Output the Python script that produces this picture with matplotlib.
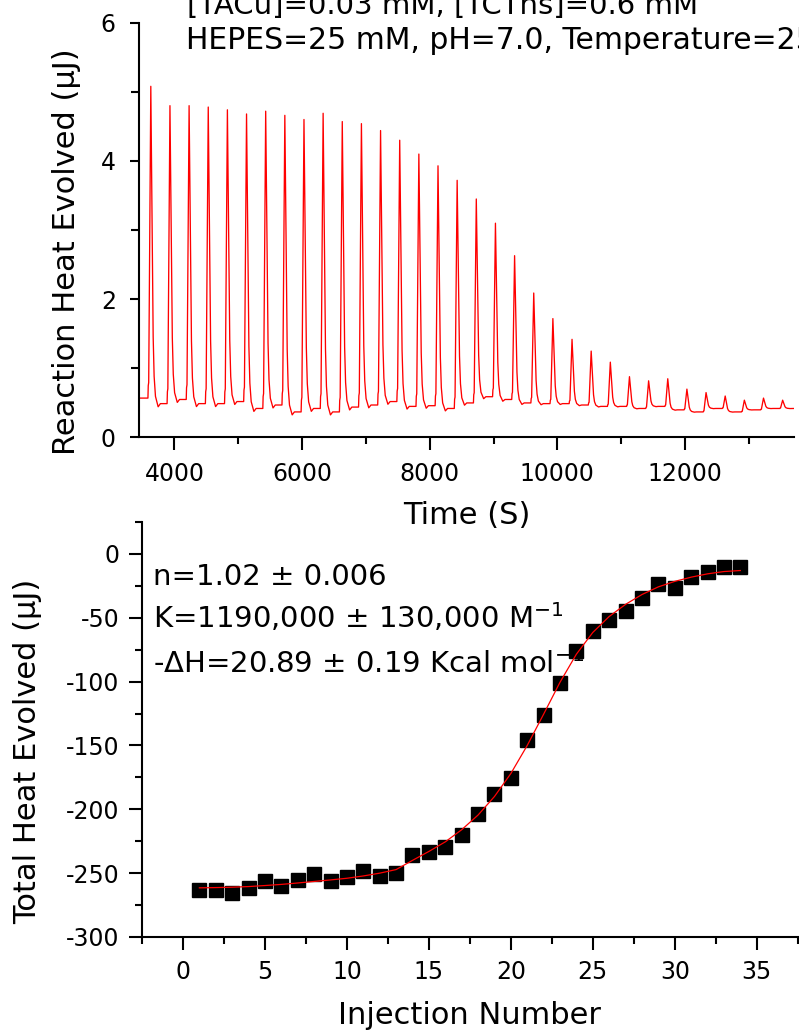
import matplotlib
matplotlib.use("Agg")
import matplotlib.pyplot as plt
from matplotlib.ticker import MultipleLocator

plt.rcParams['font.family'] = ['DejaVu Sans']
plt.rcParams['mathtext.fontset'] = 'dejavusans'
plt.rcParams['axes.unicode_minus'] = False

# ---------------- data: thermogram (top panel) ----------------
injection_times = [3630, 3930, 4230, 4530, 4830, 5130, 5430, 5730, 6030, 6330,
                   6630, 6930, 7230, 7530, 7830, 8130, 8430, 8730, 9030, 9330,
                   9630, 9930, 10230, 10530, 10830, 11130, 11430, 11730, 12030, 12330,
                   12630, 12930, 13230, 13530]
peak_values = [5.08, 4.80, 4.80, 4.78, 4.74, 4.68, 4.72, 4.66, 4.60, 4.69,
               4.57, 4.54, 4.44, 4.30, 4.10, 3.93, 3.72, 3.45, 3.10, 2.63,
               2.09, 1.72, 1.42, 1.25, 1.09, 0.88, 0.82, 0.85, 0.70, 0.65,
               0.60, 0.54, 0.57, 0.54]
# baseline level before the first injection and after each injection
baseline_levels = [0.57, 0.49, 0.55, 0.49, 0.49, 0.52, 0.42, 0.47, 0.37, 0.42,
                   0.37, 0.44, 0.47, 0.52, 0.45, 0.46, 0.42, 0.50, 0.59, 0.55,
                   0.50, 0.49, 0.49, 0.47, 0.45, 0.45, 0.42, 0.45, 0.40, 0.37,
                   0.42, 0.37, 0.40, 0.42, 0.42]
# shape of one injection peak (s from peak, fraction of peak height)
peak_shape_dt = [-150, -45, -40, -33, 0, 37, 52, 73, 115, 150]
peak_shape_frac = [0.0, 0.0, 0.04, 0.05, 1.0, 0.21, 0.086, 0.023, -0.01, 0.0]
trace_start, trace_end = 3445, 13708

# ---------------- data: integrated heats (bottom panel) ----------------
injection_number = list(range(1, 35))
total_heat = [-263.2, -263.0, -265.3, -261.4, -255.8, -260.0, -255.3, -250.8, -256.0, -252.7,
              -248.7, -251.9, -249.5, -235.6, -233.4, -229.5, -219.8, -204.0, -188.2, -175.8,
              -146.0, -125.8, -100.8, -76.2, -60.5, -51.9, -44.8, -34.8, -23.7, -26.6,
              -17.9, -14.5, -10.0, -10.0]
fit_heat = [-261.5, -261.3, -261.0, -260.5, -259.7, -258.8, -257.7, -256.5, -255.3, -254.0,
            -252.2, -250.0, -247.2, -240.0, -233.0, -225.5, -216.0, -204.5, -190.0, -172.0,
            -150.0, -125.5, -100.5, -78.5, -61.5, -49.0, -39.5, -31.8, -25.8, -21.5,
            -18.2, -15.6, -13.8, -13.0]

W, H = 799, 1034
fig = plt.figure(figsize=(W / 100, H / 100), dpi=100)


def fx(x):
    return x / W


def fy(y):
    return 1 - y / H


# ---------------- top panel ----------------
ax1 = fig.add_axes([fx(139), fy(437.5), (794 - 139) / W, (437.5 - 22.7) / H])
tt, vv = [trace_start], [baseline_levels[0]]
for i, (t0, pk) in enumerate(zip(injection_times, peak_values)):
    b_before, b_after = baseline_levels[i], baseline_levels[i + 1]
    for dt, fr in zip(peak_shape_dt, peak_shape_frac):
        if i > 0 and dt == peak_shape_dt[0]:
            continue
        b = b_before if dt <= 0 else b_after
        tt.append(t0 + dt)
        vv.append(b + fr * (pk - b))
tt.append(trace_end)
vv.append(baseline_levels[-1])
ax1.plot(tt, vv, color='#ff0000', lw=0.95)
ax1.set_xlim(trace_start, trace_end)
ax1.set_ylim(0, 6)
ax1.xaxis.set_major_locator(MultipleLocator(2000))
ax1.xaxis.set_minor_locator(MultipleLocator(1000))
ax1.yaxis.set_major_locator(MultipleLocator(2))
ax1.yaxis.set_minor_locator(MultipleLocator(1))
for s in ('top', 'right'):
    ax1.spines[s].set_visible(False)
for s in ('left', 'bottom'):
    ax1.spines[s].set_linewidth(1.5)
ax1.tick_params(which='both', direction='out', width=1.5, labelsize=17)
ax1.tick_params(axis='x', which='major', length=9.4, pad=8.5)
ax1.tick_params(axis='x', which='minor', length=5.2)
ax1.tick_params(axis='y', which='major', length=6.2, pad=10.5)
ax1.tick_params(axis='y', which='minor', length=5.5)

# ---------------- bottom panel ----------------
ax2 = fig.add_axes([fx(142), fy(937), (797.7 - 142) / W, (937 - 522) / H])
ax2.plot(injection_number, total_heat, linestyle='none', marker='s', markersize=9.4,
         color='black', zorder=3)
ax2.plot(injection_number, fit_heat, color='#ff0000', lw=0.9, zorder=4)
ax2.set_xlim(-2.5, 37.5)
ax2.set_ylim(-300, 25)
ax2.xaxis.set_major_locator(MultipleLocator(5))
ax2.xaxis.set_minor_locator(MultipleLocator(2.5))
ax2.yaxis.set_major_locator(MultipleLocator(50))
ax2.yaxis.set_minor_locator(MultipleLocator(25))
for s in ('top', 'right'):
    ax2.spines[s].set_visible(False)
for s in ('left', 'bottom'):
    ax2.spines[s].set_linewidth(1.5)
ax2.tick_params(which='both', direction='out', width=1.5, labelsize=17)
ax2.tick_params(axis='x', which='major', length=9.4, pad=7.5)
ax2.tick_params(axis='y', which='major', length=9.4, pad=6.8)
ax2.tick_params(which='minor', length=5.0)

# fit parameters (under the markers)
ann = ["n=1.02 ± 0.006",
       "K=1190,000 ± 130,000 M$^{-1}$",
       "-ΔH=20.89 ± 0.19 Kcal mol$^{-1}$"]
for txt, yb in zip(ann, [585, 628, 673]):
    ax2.text(fx(153), fy(yb), txt, transform=fig.transFigure, fontsize=21,
             va='baseline', ha='left', zorder=1, clip_on=False)

# axis labels
fig.text(fx(67), fy(252), "Reaction Heat Evolved (µJ)", rotation=90,
         ha='center', va='center', fontsize=22)
fig.text(fx(467), fy(516), "Time (S)", ha='center', va='center', fontsize=22)
fig.text(fx(28), fy(751.5), "Total Heat Evolved (µJ)", rotation=90,
         ha='center', va='center', fontsize=22)
fig.text(fx(469), fy(1016), "Injection Number", ha='center', va='center', fontsize=22)

# experimental conditions (cut by the top / right border as in the original)
fig.text(fx(187), fy(14), "[TACu]=0.03 mM, [TCTns]=0.6 mM", ha='left', va='baseline', fontsize=21)
fig.text(fx(186), fy(49), "HEPES=25 mM, pH=7.0, Temperature=25 °C", ha='left', va='baseline', fontsize=21.5)

fig.savefig("out.png", dpi=100)
